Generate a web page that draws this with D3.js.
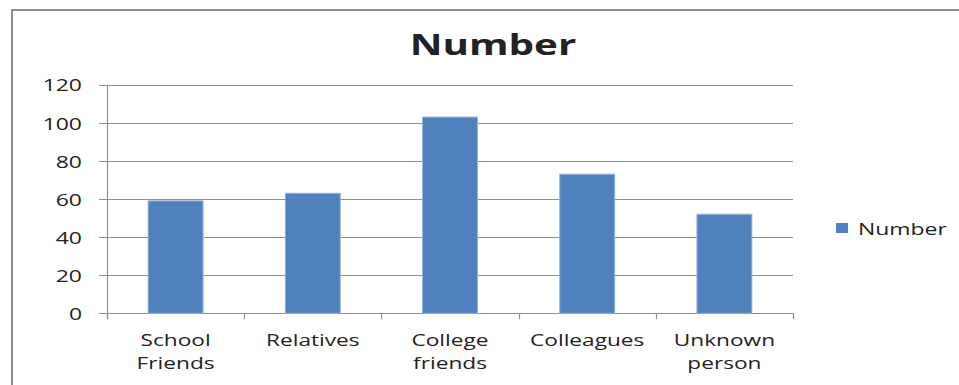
<!DOCTYPE html>
<html>
<head>
<meta charset="utf-8">
<script src="https://cdn.jsdelivr.net/npm/d3@7"></script>
<style>
  html, body { margin: 0; padding: 0; background: #fff; }
  svg { display: block; }
  text { font-family: "Open Sans", "DejaVu Sans", sans-serif; fill: #222; }
</style>
</head>
<body>
<svg id="chart" width="959" height="385"></svg>
<script>
const categories = [["School", "Friends"], ["Relatives"], ["College", "friends"], ["Colleagues"], ["Unknown", "person"]];
const values = [59, 63, 103, 73, 52];
const yTicks = [0, 20, 40, 60, 80, 100, 120];
const title = "Number";
const seriesName = "Number";

(function () {
const svg = d3.select("#chart");
const W = 959, H = 385;
const SX = 1.35; // horizontal text stretch as in the reference

svg.append("rect").attr("width", W).attr("height", H).attr("fill", "#fff");
// outer chart border
svg.append("rect").attr("x", 12).attr("y", 10).attr("width", 1200).attr("height", 600)
  .attr("fill", "none").attr("stroke", "#8c8c8c").attr("stroke-width", 2);

const pLeft = 107, pRight = 793, pTop = 84.7, pBottom = 313.3;
const x = d3.scaleBand().domain(d3.range(categories.length)).range([pLeft, pRight]).padding(0);
const y = d3.scaleLinear().domain([0, 120]).range([pBottom, pTop]);

function stext(g, px, py, str, size, weight, anchor, sx) {
  return g.append("text")
    .attr("transform", `translate(${px},${py}) scale(${sx || SX},1)`)
    .attr("text-anchor", anchor || "middle")
    .attr("dominant-baseline", "central")
    .style("font-size", size + "px")
    .style("font-weight", weight || "normal")
    .text(str);
}

// gridlines
svg.append("g").selectAll("line").data(yTicks).join("line")
  .attr("x1", pLeft - 8).attr("x2", pRight)
  .attr("y1", d => Math.round(y(d)) + 0.5).attr("y2", d => Math.round(y(d)) + 0.5)
  .attr("stroke", "#909090").attr("stroke-width", 1.2);

// y axis line
svg.append("line").attr("x1", pLeft + 0.5).attr("x2", pLeft + 0.5)
  .attr("y1", pTop).attr("y2", pBottom + 6).attr("stroke", "#909090").attr("stroke-width", 1.2);

// y labels
const gy = svg.append("g");
yTicks.forEach(t => stext(gy, 82, y(t), String(t), 17, "normal", "end"));

// x ticks
const bounds = d3.range(categories.length + 1).map(i => i < categories.length ? x(i) : pRight);
svg.append("g").selectAll("line").data(bounds).join("line")
  .attr("x1", d => Math.round(d) + 0.5).attr("x2", d => Math.round(d) + 0.5)
  .attr("y1", pBottom).attr("y2", pBottom + 6)
  .attr("stroke", "#909090").attr("stroke-width", 1.2);

// bars
const bw = x.bandwidth() * 0.4;
svg.append("g").selectAll("rect").data(values).join("rect")
  .attr("x", (d, i) => x(i) + x.bandwidth() / 2 - bw / 2)
  .attr("y", d => y(d))
  .attr("width", bw)
  .attr("height", d => pBottom - y(d))
  .attr("fill", "#4F81BD")
  .attr("stroke", "#8fb0da").attr("stroke-width", 1);

// category labels
const gx = svg.append("g");
categories.forEach((lines, i) => {
  const cx = x(i) + x.bandwidth() / 2;
  lines.forEach((ln, j) => stext(gx, cx, 340 + j * 23, ln, 16.8));
});

// title
stext(svg, 493, 43, title, 29, "bold", "middle", 1.39);

// legend
svg.append("rect").attr("x", 836).attr("y", 223).attr("width", 12).attr("height", 10).attr("fill", "#4F81BD");
stext(svg, 858, 228, seriesName, 17, "normal", "start");
})();
</script>
</body>
</html>
